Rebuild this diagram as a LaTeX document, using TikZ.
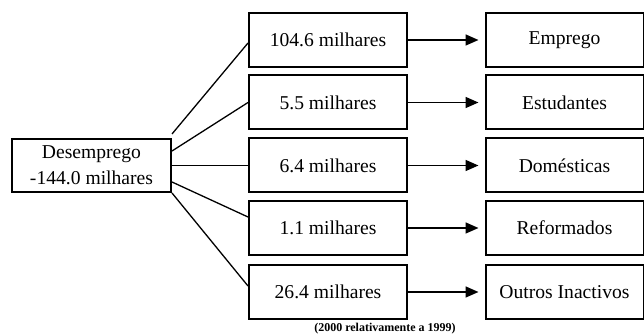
\documentclass[tikz,border=0pt]{standalone}
\usepackage{fontspec}
\setmainfont{Liberation Serif}
\usepackage{tikz}
\usetikzlibrary{calc,arrows.meta,positioning}
\tikzset{
  caixa/.style={draw, line width=1pt, minimum width=79pt, minimum height=27pt,
    inner sep=0pt, align=center, font=\fontsize{9.8}{13}\selectfont},
  ligacao/.style={line width=0.65pt},
  seta/.style={line width=0.8pt, -{Triangle[length=6.5pt,width=5.5pt]}, shorten >=3pt}
}

\begin{document}
\begin{tikzpicture}[x=0.5pt,y=-0.5pt]
\useasboundingbox (0,0) rectangle (644,335);
\node[caixa, minimum width=79.5pt, minimum height=26.5pt] (des) at (91.5,165.5) {Desemprego\\-144.0 milhares};

\foreach \n/\y/\val/\dest in {1/40/104.6/Emprego, 2/102.5/5.5/Estudantes,
    3/165.5/6.4/Domésticas, 4/228/1.1/Reformados, 5/292/26.4/Outros Inactivos}{
  \node[caixa] (mil\n) at (328,\y) {\val\ milhares};
  \node[caixa] (dest\n) at (564.5,\y) {\dest};
  \draw[seta] (mil\n) -- (dest\n);
}

\draw[ligacao] ([yshift=2pt]des.north east) -- ([yshift=-1.5pt]mil1.west);
\draw[ligacao] ([yshift=-6.5pt]des.north east) -- (mil2.west);
\draw[ligacao] (des.east) -- (mil3.west);
\draw[ligacao] ([yshift=5.5pt]des.south east) -- ([yshift=5.5pt]mil4.west);
\draw[ligacao] (des.south east) -- ([yshift=3pt]mil5.west);

\node[font=\bfseries\fontsize{6}{7}\selectfont] (nota) at (385,329) {(2000 relativamente a 1999)};
\end{tikzpicture}
\end{document}
